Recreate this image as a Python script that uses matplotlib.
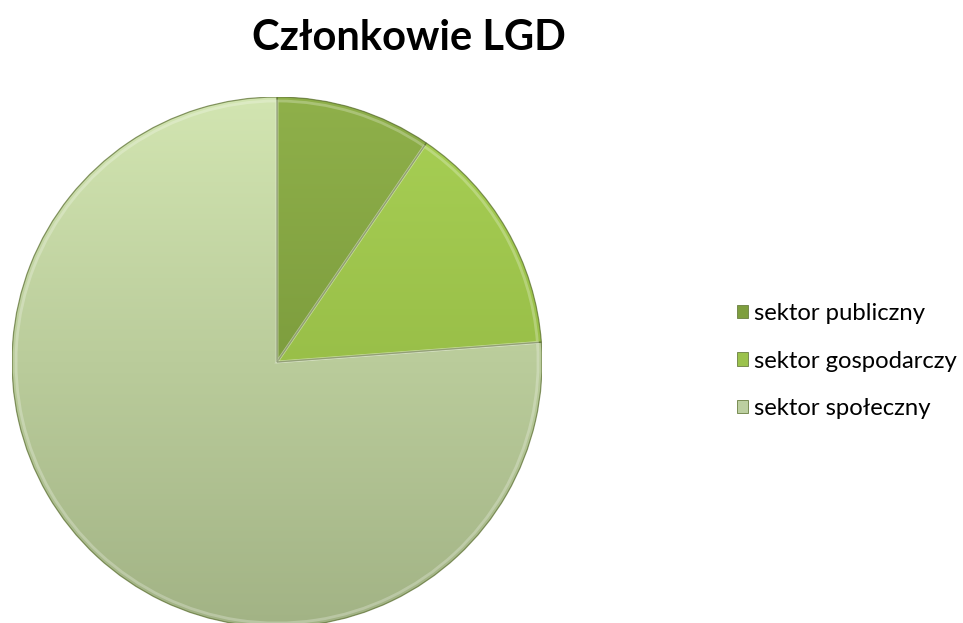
import numpy as np
import matplotlib
matplotlib.use("Agg")
import matplotlib.pyplot as plt
from matplotlib.patches import Rectangle, Wedge
from matplotlib.colors import to_rgb

labels = ["sektor publiczny", "sektor gospodarczy", "sektor społeczny"]
values = [4, 6, 32]
top_cols = ["#8fb04a", "#a8d055", "#d2e5b1"]
bot_cols = ["#6c8b32", "#8aae3c", "#a2b385"]
mid_cols = ["#7e9e3e", "#9bc24c", "#bccfa0"]

plt.rcParams["font.family"] = ["Lato", "DejaVu Sans"]

fig = plt.figure(figsize=(9.63, 6.23), dpi=100)
ax = fig.add_axes([0.0125, -0.0064, 0.5504, 0.8507])
wedges, _ = ax.pie(values, startangle=90, counterclock=False, radius=1,
                   colors=mid_cols)
ax.set_aspect("equal")
ax.axis("off")

# vertical gradient per slice, clipped to the wedge
for w, ct, cb in zip(wedges, top_cols, bot_cols):
    t = np.linspace(0, 1, 256)[:, None, None]
    grad = (1 - t) * np.array(to_rgb(ct)) + t * np.array(to_rgb(cb))
    im = ax.imshow(grad, extent=[-1, 1, -1, 1], aspect="auto", zorder=2,
                   interpolation="bilinear")
    im.set_clip_path(w)
    ax.add_patch(Wedge(w.center, w.r, w.theta1, w.theta2,
                       fill=False, ec="#5d7034", lw=0.9, zorder=3, alpha=0.7))
    # soft bevel highlight just inside the edge
    ax.add_patch(Wedge(w.center, w.r * 0.985, w.theta1, w.theta2,
                       fill=False, ec="white", lw=2.0, zorder=3, alpha=0.25))
ax.set_xlim(-1.0, 1.0); ax.set_ylim(-1.0, 1.0)

fig.text(0.425, 1 - 38 / 623, "Członkowie LGD", ha="center", va="center",
         fontsize=30, fontweight="bold")

handles = [Rectangle((0, 0), 1, 1, fc=c, ec="#6a7f40", lw=0.6) for c in mid_cols]
fig.legend(handles, labels, loc="center left",
           bbox_to_anchor=(727 / 963, 1 - 361 / 623), frameon=False,
           fontsize=17.2, labelspacing=1.12, handlelength=0.47,
           handleheight=0.47, handletextpad=0.25, borderaxespad=0)

fig.savefig("out.png", dpi=100)
